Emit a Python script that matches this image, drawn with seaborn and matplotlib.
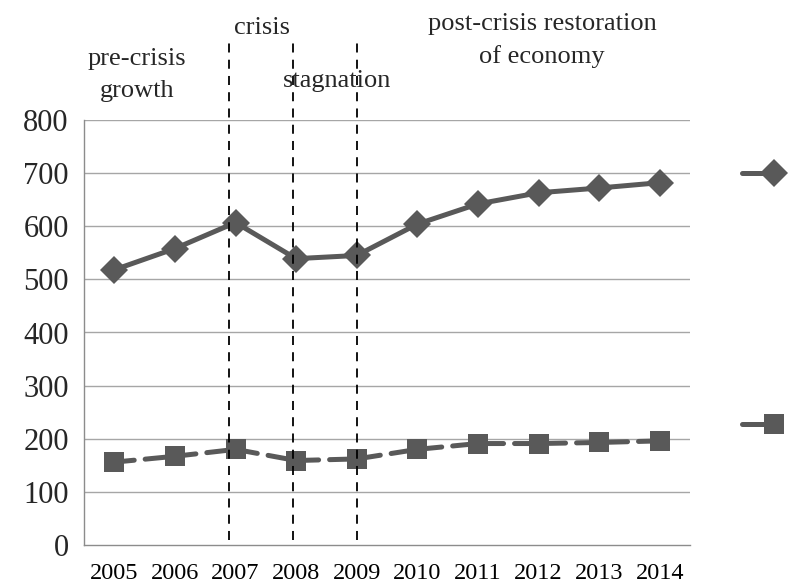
import matplotlib
matplotlib.use("Agg")
import matplotlib.pyplot as plt
import seaborn as sns
import pandas as pd
from matplotlib.lines import Line2D

years = ['2005', '2006', '2007', '2008', '2009', '2010', '2011', '2012', '2013', '2014']
series_top = [518, 558, 607, 539, 545, 604, 642, 663, 672, 682]
series_bottom = [156, 167, 180, 159, 162, 180, 191, 191, 193, 196]
y_ticks = [0, 100, 200, 300, 400, 500, 600, 700, 800]
phase_lines = [1.9, 2.95, 4.0]

df = pd.DataFrame({'year': years, 'top': series_top, 'bottom': series_bottom})

sns.set_theme(style="white")
plt.rcParams['font.family'] = ['Liberation Serif', 'DejaVu Serif']

fig = plt.figure(figsize=(7.88, 5.87), dpi=100)
ax = fig.add_axes([84/788, 1-545/587, (690-84)/788, (545-120)/587])

line_col = '#595959'
sns.lineplot(data=df, x='year', y='top', ax=ax, color=line_col, lw=3.6,
             marker='D', markersize=14, markeredgewidth=0, sort=False)
sns.lineplot(data=df, x='year', y='bottom', ax=ax, color=line_col, lw=3.6,
             marker='s', markersize=14, markeredgewidth=0, sort=False,
             dashes=False)
ax.lines[1].set_dashes((4, 2.2))
ax.lines[1].set_dash_capstyle('round')
ax.lines[0].set_solid_capstyle('round')

ax.set_ylim(0, 800)
ax.set_xlim(-0.5, 9.5)
ax.set_yticks(y_ticks)
ax.set_yticklabels([str(v) for v in y_ticks], fontsize=22)
ax.set_xticks(range(len(years)))
ax.set_xticklabels(years, fontsize=17.5)
ax.set_xticks([i - 0.5 for i in range(len(years) + 1)], minor=True)
ax.tick_params(axis='x', which='major', length=0, pad=13, colors='black')
ax.tick_params(axis='x', which='minor', length=6, width=1, color='#8c8c8c', direction='out')
ax.tick_params(axis='y', length=7, width=1, color='#8c8c8c', direction='out', pad=4)
ax.set_xlabel('')
ax.set_ylabel('')

for v in y_ticks[1:]:
    ax.axhline(v, color='#a6a6a6', lw=1, zorder=0)
for s in ['top', 'right']:
    ax.spines[s].set_visible(False)
for s in ['left', 'bottom']:
    ax.spines[s].set_color('#8c8c8c')
    ax.spines[s].set_linewidth(1)

for xv in phase_lines:
    ax.plot([xv, xv], [10, 945], color='black', lw=1.3, linestyle=(0, (5, 4)),
            clip_on=False, zorder=5)

def ftext(x, y, s):
    fig.text(x/788, 1-y/587, s, ha='center', va='baseline', fontsize=19)

ftext(137, 65, 'pre-crisis')
ftext(137, 97, 'growth')
ftext(262, 34, 'crisis')
ftext(337, 87, 'stagnation')
ftext(542, 30, 'post-crisis restoration')
ftext(542, 63, 'of economy')

# legend keys (labels cut off)
fig.add_artist(Line2D([742/788, 774/788], [1-173/587, 1-173/587], color=line_col,
                      lw=3.6, solid_capstyle='round', transform=fig.transFigure))
fig.add_artist(Line2D([774/788], [1-173/587], marker='D', markersize=14, color=line_col,
                      markeredgewidth=0, transform=fig.transFigure))
fig.add_artist(Line2D([742/788, 774/788], [1-424/587, 1-424/587], color=line_col,
                      lw=3.6, solid_capstyle='round', transform=fig.transFigure))
fig.add_artist(Line2D([774/788], [1-424/587], marker='s', markersize=14, color=line_col,
                      markeredgewidth=0, transform=fig.transFigure))

fig.savefig('out.png', dpi=100)
